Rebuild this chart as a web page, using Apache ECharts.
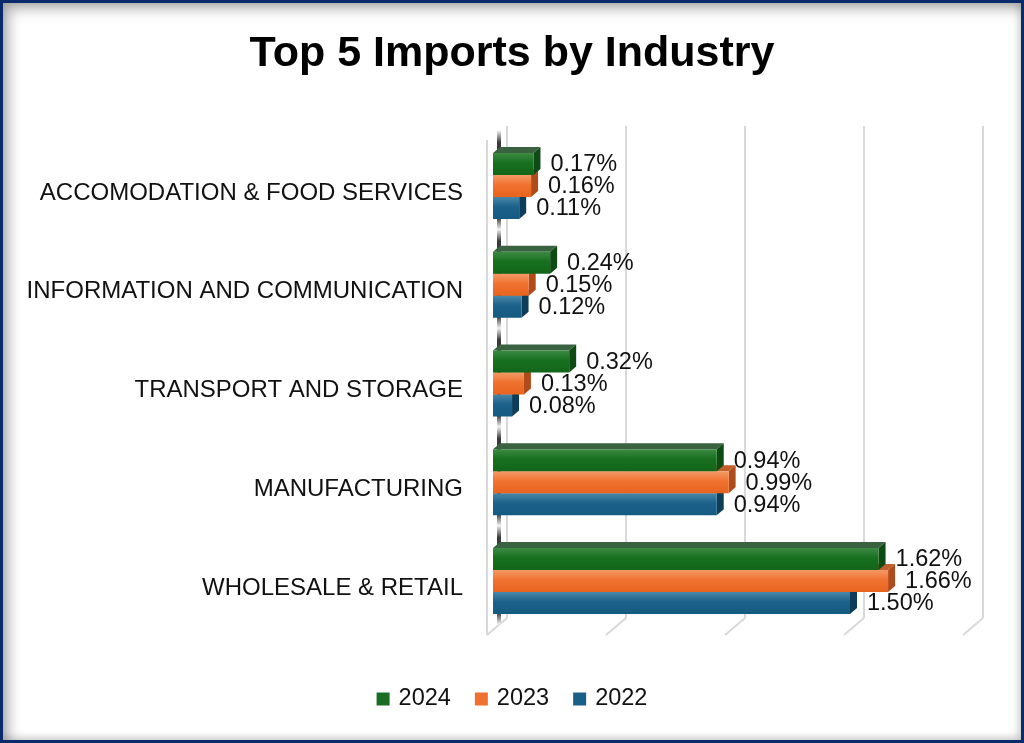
<!DOCTYPE html>
<html>
<head>
<meta charset="utf-8">
<script src="https://cdn.jsdelivr.net/npm/echarts@6/dist/echarts.min.js"></script>
<style>
html,body{margin:0;padding:0;background:#fff;}
#wrap{position:relative;width:1024px;height:743px;overflow:hidden;}
#chart{position:absolute;left:0;top:0;width:1024px;height:743px;}
#frame{position:absolute;left:0;top:0;width:1024px;height:743px;box-sizing:border-box;border:3px solid #0a2a6b;box-shadow:inset 5px 5px 14px rgba(0,0,0,0.35), inset -2px -2px 8px rgba(0,0,0,0.15);pointer-events:none;}
</style>
</head>
<body>
<div id="wrap"><div id="chart"></div><div id="frame"></div></div>
<script>
const categories = ['WHOLESALE & RETAIL', 'MANUFACTURING', 'TRANSPORT AND STORAGE', 'INFORMATION AND COMMUNICATION', 'ACCOMODATION & FOOD SERVICES'];
const seriesNames = ['2024', '2023', '2022'];
const v2024 = [1.62, 0.94, 0.32, 0.24, 0.17];
const v2023 = [1.66, 0.99, 0.13, 0.15, 0.16];
const v2022 = [1.50, 0.94, 0.08, 0.12, 0.11];
const xTicks = [0, 0.5, 1, 1.5, 2];

const FONT = "'Liberation Sans', Arial, sans-serif";
const styles = {
  '2024': {front: ['#3d8a45', '#17701f', '#136519'], top: '#3b6240', side: '#0e4a14', legend: '#1a6e24'},
  '2023': {front: ['#f39a66', '#f07230', '#e8631e'], top: '#c0602c', side: '#b04c1c', legend: '#f07030'},
  '2022': {front: ['#4a86a8', '#1b6189', '#155a80'], top: '#2f5870', side: '#0e3d5a', legend: '#1a5f86'}
};
const DX = 7, DY = 6;

function makeRender(name, k) {
  const st = styles[name];
  return function (params, api) {
    const val = api.value(0), ci = api.value(1);
    const p0 = api.coord([0, ci]);
    const p1 = api.coord([val, ci]);
    const band = api.size([0, 1])[1];
    const h = band * 0.223;
    const top = p0[1] - 1.5 * h + k * h;
    const x0 = p0[0], x1 = p1[0];
    return {
      type: 'group',
      children: [
        {type: 'polygon', shape: {points: [[x0, top], [x0 + DX, top - DY], [x1 + DX, top - DY], [x1, top]]}, style: {fill: st.top}},
        {type: 'polygon', shape: {points: [[x1, top], [x1 + DX, top - DY], [x1 + DX, top + h - DY], [x1, top + h]]}, style: {fill: st.side}},
        {type: 'rect', shape: {x: x0, y: top, width: x1 - x0, height: h}, style: {fill: new echarts.graphic.LinearGradient(0, 0, 0, 1, [{offset: 0, color: st.front[0]}, {offset: 0.45, color: st.front[1]}, {offset: 1, color: st.front[2]}])}},
        {type: 'text', z2: 100, style: {text: val.toFixed(2) + '%', x: x1 + 17, y: top + h / 2 + 1, verticalAlign: 'middle', align: 'left', fill: '#111', font: '23.5px ' + FONT}}
      ]
    };
  };
}

function wallRender(params, api) {
  const ci = api.value(1);
  const p = api.coord([0, ci]);
  const band = api.size([0, 1])[1];
  const yTop = p[1] - band / 2 - 6;
  return {
    type: 'rect',
    shape: {x: p[0] + 4, y: yTop, width: 4, height: band},
    style: {fill: new echarts.graphic.LinearGradient(0, 0, 0, 1, [
      {offset: 0, color: '#f2f2f2'}, {offset: 0.12, color: '#3a3a3a'}, {offset: 0.88, color: '#3a3a3a'}, {offset: 1, color: '#f2f2f2'}])}
  };
}

const chart = echarts.init(document.getElementById('chart'));
const dataFor = arr => arr.map((v, i) => [v, i]);

const series = [
  {type: 'custom', name: 'wall', xAxisIndex: 0, yAxisIndex: 0, renderItem: wallRender, data: categories.map((c, i) => [0, i]), silent: true, z: 1},
  {type: 'custom', name: '2022', xAxisIndex: 0, yAxisIndex: 0, renderItem: makeRender('2022', 2), data: dataFor(v2022), itemStyle: {color: styles['2022'].legend}, z: 2},
  {type: 'custom', name: '2023', xAxisIndex: 0, yAxisIndex: 0, renderItem: makeRender('2023', 1), data: dataFor(v2023), itemStyle: {color: styles['2023'].legend}, z: 3},
  {type: 'custom', name: '2024', xAxisIndex: 0, yAxisIndex: 0, renderItem: makeRender('2024', 0), data: dataFor(v2024), itemStyle: {color: styles['2024'].legend}, z: 4}
];

chart.setOption({
  animation: false,
  title: {text: 'Top 5 Imports by Industry', left: 'center', top: 28, textStyle: {fontFamily: FONT, fontSize: 43, fontWeight: 'bold', color: '#000'}},
  legend: {data: seriesNames, bottom: 27, left: 'center', itemWidth: 13, itemHeight: 13, itemGap: 24, icon: 'rect',
    textStyle: {fontFamily: FONT, fontSize: 23.5, color: '#111', padding: [0, 0, 0, 4]}},
  grid: [
    {left: 493, width: 476, top: 136.6, height: 493.75},
    {left: 507, width: 476, top: 126, bottom: 125},
    {left: 493, width: 476, top: 143.6, height: 493.75}
  ],
  xAxis: [
    {gridIndex: 0, type: 'value', min: 0, max: 2, interval: 0.5, axisLine: {show: false}, axisTick: {show: false}, axisLabel: {show: false}, splitLine: {show: false}},
    {gridIndex: 1, type: 'value', min: 0, max: 2, interval: 0.5, axisLine: {show: false}, axisTick: {show: false}, axisLabel: {show: false}, splitLine: {show: true, lineStyle: {color: '#d9d9d9', width: 2}}},
    {gridIndex: 2, type: 'value', min: 0, max: 2, show: false}
  ],
  yAxis: [
    {gridIndex: 0, type: 'category', data: categories, axisLine: {show: false}, axisTick: {show: false}, splitLine: {show: false}, axisLabel: {show: false}},
    {gridIndex: 1, type: 'category', data: categories, show: false},
    {gridIndex: 2, type: 'category', data: categories, axisLine: {show: false}, axisTick: {show: false}, splitLine: {show: false},
      axisLabel: {margin: 30, fontFamily: FONT, fontSize: 24, color: '#111'}}
  ],
  series: series
});

// floor diagonals and front-left edge of the 3D box
const gr = [];
const g1 = chart.getModel().getComponent('grid', 1).coordinateSystem.getRect();
xTicks.forEach(v => {
  const px = chart.convertToPixel({xAxisIndex: 1}, v);
  gr.push({type: 'line', shape: {x1: px, y1: g1.y + g1.height, x2: px - 20, y2: g1.y + g1.height + 17}, style: {stroke: '#d9d9d9', lineWidth: 2}, silent: true});
});
const px0 = chart.convertToPixel({xAxisIndex: 1}, 0);
gr.push({type: 'line', shape: {x1: px0 - 20, y1: g1.y + 14, x2: px0 - 20, y2: g1.y + g1.height + 17}, style: {stroke: '#d9d9d9', lineWidth: 2}, silent: true});
chart.setOption({graphic: gr});
</script>
</body>
</html>
